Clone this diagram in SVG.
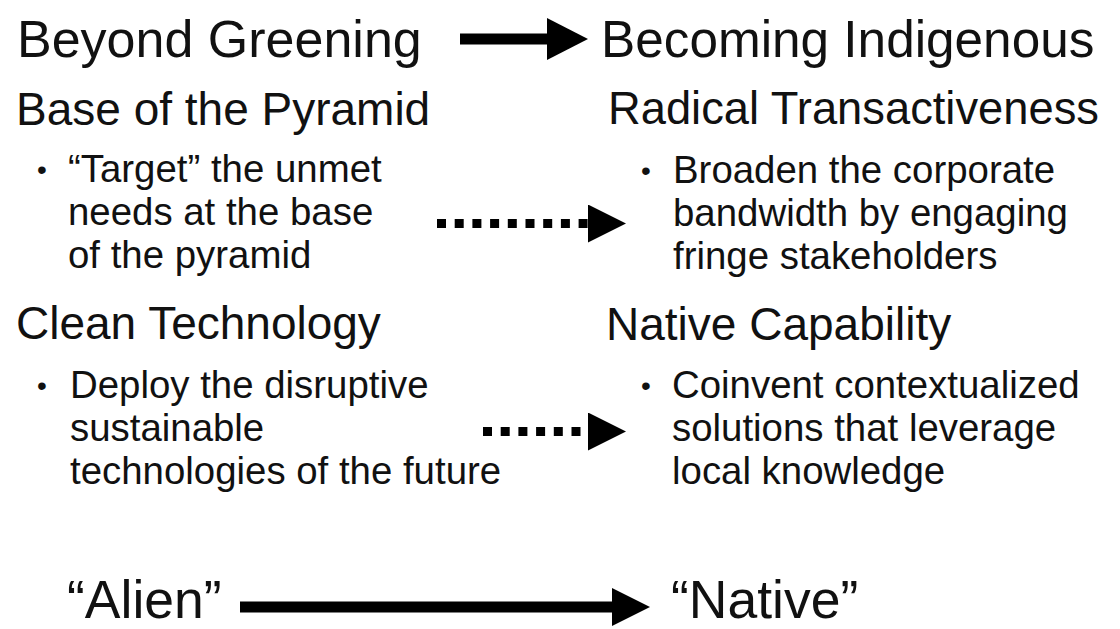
<svg xmlns="http://www.w3.org/2000/svg" width="1120" height="629" viewBox="0 0 1120 629">
  <style>
    text { font-family: "Liberation Sans", Arial, Helvetica, sans-serif; fill: #111; }
    .title { font-size: 52px; }
    .title-r { font-size: 51.3px; }
    .head { font-size: 46px; }
    .head-r { font-size: 45.3px; }
    .body { font-size: 38.4px; }
    .dot { font-size: 28px; }
    .quote { font-size: 53.5px; }
    .solid { stroke: #000; stroke-width: 11; fill: none; }
    .dotted { stroke: #000; stroke-width: 9; stroke-dasharray: 9 8.7; fill: none; }
  </style>
  <defs>
    <marker id="tri" markerUnits="userSpaceOnUse" markerWidth="38" markerHeight="38" viewBox="0 0 38 38" refX="0" refY="19" orient="auto">
      <path d="M0,0 L38,19 L0,38 Z" fill="#000"/>
    </marker>
    <marker id="triL" markerUnits="userSpaceOnUse" markerWidth="41" markerHeight="42" viewBox="0 0 41 42" refX="0" refY="21" orient="auto">
      <path d="M0,0 L41,21 L0,42 Z" fill="#000"/>
    </marker>
  </defs>

  <g id="beyond-greening">
    <text class="title" x="17" y="57">Beyond Greening</text>
  </g>
  <g id="becoming-indigenous">
    <text class="title-r" x="601" y="57">Becoming Indigenous</text>
  </g>

  <g id="base-of-the-pyramid">
    <text class="head" x="16" y="125">Base of the Pyramid</text>
    <text class="dot" x="37" y="179">•</text>
    <text class="body" x="68" y="182">“Target” the unmet</text>
    <text class="body" x="68" y="225">needs at the base</text>
    <text class="body" x="68" y="268">of the pyramid</text>
  </g>

  <g id="radical-transactiveness">
    <text class="head-r" x="608" y="124">Radical Transactiveness</text>
    <text class="dot" x="641" y="180">•</text>
    <text class="body" x="673" y="183">Broaden the corporate</text>
    <text class="body" x="673" y="226">bandwidth by engaging</text>
    <text class="body" x="673" y="269">fringe stakeholders</text>
  </g>

  <g id="clean-technology">
    <text class="head" x="16" y="339">Clean Technology</text>
    <text class="dot" x="37" y="395">•</text>
    <text class="body" x="70" y="398">Deploy the disruptive</text>
    <text class="body" x="70" y="441">sustainable</text>
    <text class="body" x="70" y="484">technologies of the future</text>
  </g>

  <g id="native-capability">
    <text class="head" x="606" y="340">Native Capability</text>
    <text class="dot" x="641" y="395">•</text>
    <text class="body" x="672" y="398">Coinvent contextualized</text>
    <text class="body" x="672" y="441">solutions that leverage</text>
    <text class="body" x="672" y="484">local knowledge</text>
  </g>

  <g id="alien">
    <text class="quote" x="67" y="618">“Alien”</text>
  </g>
  <g id="native">
    <text class="quote" x="671" y="618">“Native”</text>
  </g>

  <g id="connectors">
    <line class="solid" x1="460" y1="39" x2="547" y2="39" marker-end="url(#triL)"/>
    <line class="dotted" x1="437" y1="223.5" x2="588" y2="223.5" marker-end="url(#tri)"/>
    <line class="dotted" x1="483" y1="431.5" x2="588" y2="431.5" marker-end="url(#tri)"/>
    <line class="solid" x1="240" y1="607" x2="612" y2="607" marker-end="url(#tri)"/>
  </g>
</svg>
